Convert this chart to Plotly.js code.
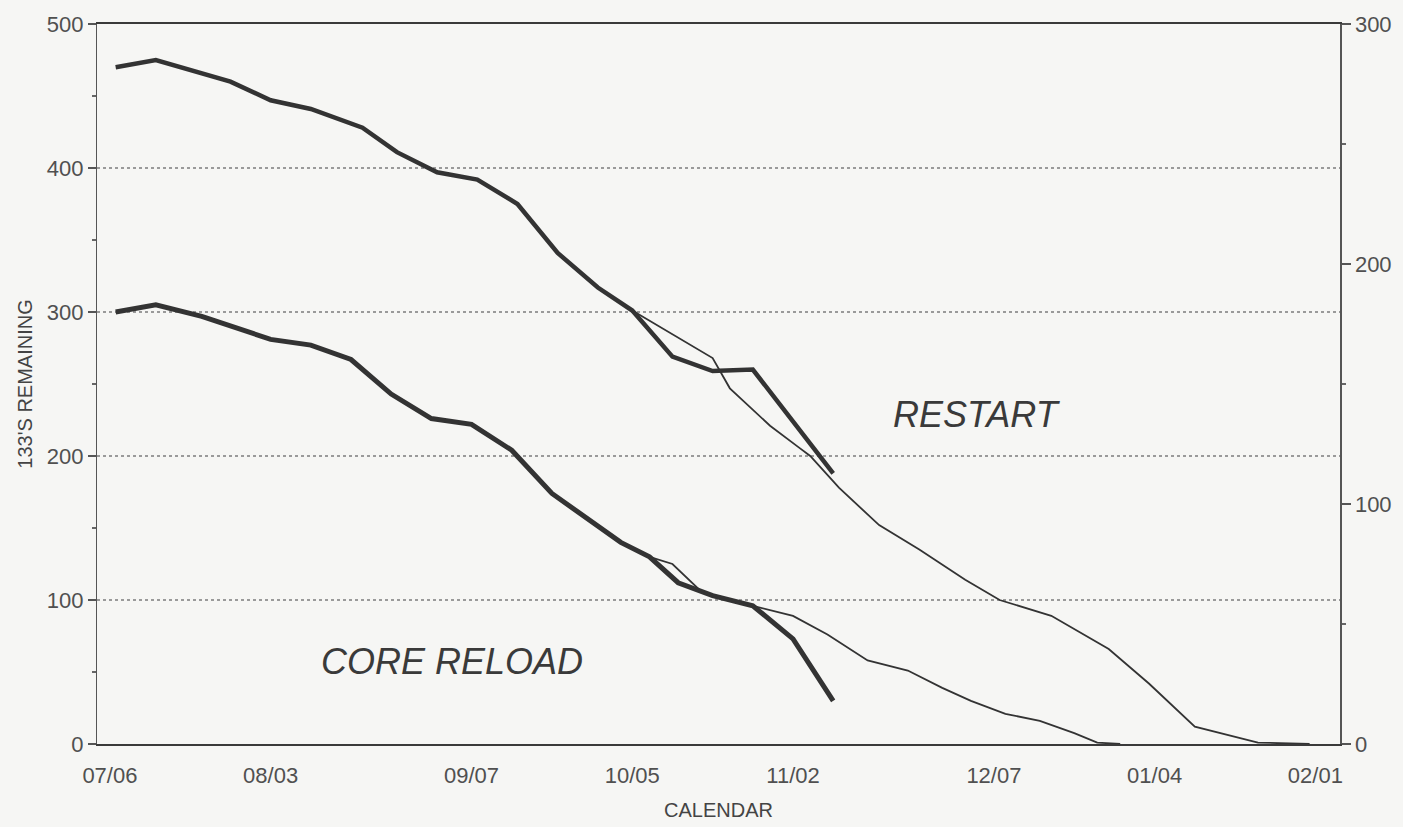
<!DOCTYPE html>
<html>
<head>
<meta charset="utf-8">
<script src="https://cdn.plot.ly/plotly-3.0.1.min.js"></script>
<style>
  html, body { margin: 0; padding: 0; background: #f6f6f4; }
  #chart { width: 1403px; height: 827px; }
</style>
</head>
<body>
<div id="chart"></div>
<script>
// ---- Data (dates 1987-88, values = 133's remaining) ----
const tickDates  = ['1987-07-06','1987-08-03','1987-09-07','1987-10-05','1987-11-02','1987-12-07','1988-01-04','1988-02-01'];
const tickLabels = ['07/06','08/03','09/07','10/05','11/02','12/07','01/04','02/01'];

// RESTART - actual (thick)
const restartActualDates = ['1987-07-07','1987-07-14','1987-07-27','1987-08-03','1987-08-10','1987-08-19','1987-08-25',
  '1987-09-01','1987-09-08','1987-09-15','1987-09-22','1987-09-29','1987-10-05','1987-10-12','1987-10-19','1987-10-26','1987-11-09'];
const restartActual = [470, 475, 460, 447, 441, 428, 411, 397, 392, 375, 341, 317, 301, 269, 259, 260, 188];

// RESTART - plan (thin)
const restartPlanDates = ['1987-10-05','1987-10-19','1987-10-22','1987-10-29','1987-11-03','1987-11-05','1987-11-10','1987-11-17',
  '1987-11-24','1987-12-02','1987-12-08','1987-12-17','1987-12-27','1988-01-03','1988-01-11','1988-01-17','1988-01-22','1988-01-31'];
const restartPlan = [301, 268, 247, 221, 206, 200, 178, 152, 135, 114, 100, 89, 66, 42, 12, 6, 1, 0];

// CORE RELOAD - actual (thick)
const reloadActualDates = ['1987-07-07','1987-07-14','1987-07-22','1987-08-03','1987-08-10','1987-08-17','1987-08-24','1987-08-31',
  '1987-09-07','1987-09-12','1987-09-14','1987-09-21','1987-10-03','1987-10-08','1987-10-13','1987-10-19','1987-10-26','1987-11-02','1987-11-09'];
const reloadActual = [300, 305, 297, 281, 277, 267, 243, 226, 222, 209, 204, 174, 140, 130, 112, 103, 96, 73, 30];

// CORE RELOAD - plan (thin)
const reloadPlanDates = ['1987-10-08','1987-10-12','1987-10-17','1987-10-26','1987-11-02','1987-11-08','1987-11-15','1987-11-22',
  '1987-11-28','1987-12-03','1987-12-09','1987-12-15','1987-12-21','1987-12-25','1987-12-29'];
const reloadPlan = [130, 125, 106, 96, 89, 76, 58, 51, 39, 30, 21, 16, 7.5, 1, 0];

const leftTicks  = [0, 100, 200, 300, 400, 500];
const rightTicks = [0, 100, 200, 300];

// ---- Styling ----
const ink = '#333333';
const fontFam = '"Liberation Sans", Arial, sans-serif';
const tickFont = { family: fontFam, size: 22, color: '#505050' };

function line(x, y, w, name) {
  return { type: 'scatter', mode: 'lines', x: x, y: y, name: name,
           line: { color: ink, width: w, shape: 'linear' }, hoverinfo: 'x+y' };
}

const traces = [
  line(restartPlanDates, restartPlan, 1.8, 'Restart plan'),
  line(reloadPlanDates, reloadPlan, 1.8, 'Core reload plan'),
  line(restartActualDates, restartActual, 4.5, 'Restart actual'),
  line(reloadActualDates, reloadActual, 5, 'Core reload actual'),
  // invisible carrier so the right-hand scale (0-300) is drawn
  { type: 'scatter', mode: 'lines', x: [tickDates[0]], y: [rightTicks[0]], yaxis: 'y2',
    opacity: 0, hoverinfo: 'skip', showlegend: false, line: { width: 0 } }
];

const layout = {
  width: 1403, height: 827,
  paper_bgcolor: '#f6f6f4', plot_bgcolor: '#f6f6f4',
  showlegend: false,
  margin: { l: 97, r: 63, t: 24, b: 83 },
  xaxis: {
    type: 'date',
    range: ['1987-07-03 18:00', '1988-02-05 07:00'],
    tickvals: tickDates, ticktext: tickLabels,
    ticks: 'outside', ticklen: 11, tickcolor: 'rgba(0,0,0,0)',
    tickfont: tickFont,
    showgrid: false, zeroline: false,
    showline: true, mirror: true, linecolor: '#3a3a3a', linewidth: 2,
    title: { text: 'CALENDAR', font: { family: fontFam, size: 20, color: '#444' }, standoff: 16 }
  },
  yaxis: {
    range: [0, 500], tickvals: leftTicks,
    ticks: 'outside', ticklen: 8, tickcolor: '#555', tickwidth: 1.2,
    minor: { dtick: 50, ticks: 'outside', ticklen: 4, tickcolor: '#666', showgrid: false },
    tickfont: tickFont,
    showgrid: true, gridcolor: '#9a9a9a', griddash: 'dot', gridwidth: 1.2,
    zeroline: false,
    showline: true, linecolor: '#555', linewidth: 1.2,
    title: { text: "133'S REMAINING", font: { family: fontFam, size: 20, color: '#444' }, standoff: 8 }
  },
  yaxis2: {
    overlaying: 'y', side: 'right', anchor: 'x',
    range: [0, 300], tickvals: rightTicks,
    ticks: 'outside', ticklen: 9, tickcolor: '#555', tickwidth: 1.2,
    minor: { dtick: 50, ticks: 'outside', ticklen: 4, tickcolor: '#666', showgrid: false },
    tickfont: tickFont,
    showgrid: false, zeroline: false,
    showline: true, linecolor: '#555', linewidth: 1.5
  },
  annotations: [
    { xref: 'paper', yref: 'paper', x: 0.708, y: 0.457, xanchor: 'center', yanchor: 'middle', showarrow: false,
      text: '<i>RESTART</i>', font: { family: fontFam, size: 36, color: '#3a3a3a' } },
    { xref: 'paper', yref: 'paper', x: 0.286, y: 0.114, xanchor: 'center', yanchor: 'middle', showarrow: false,
      text: '<i>CORE RELOAD</i>', font: { family: fontFam, size: 36, color: '#3a3a3a' } }
  ]
};

Plotly.newPlot('chart', traces, layout, { displayModeBar: false, staticPlot: true });
</script>
</body>
</html>
